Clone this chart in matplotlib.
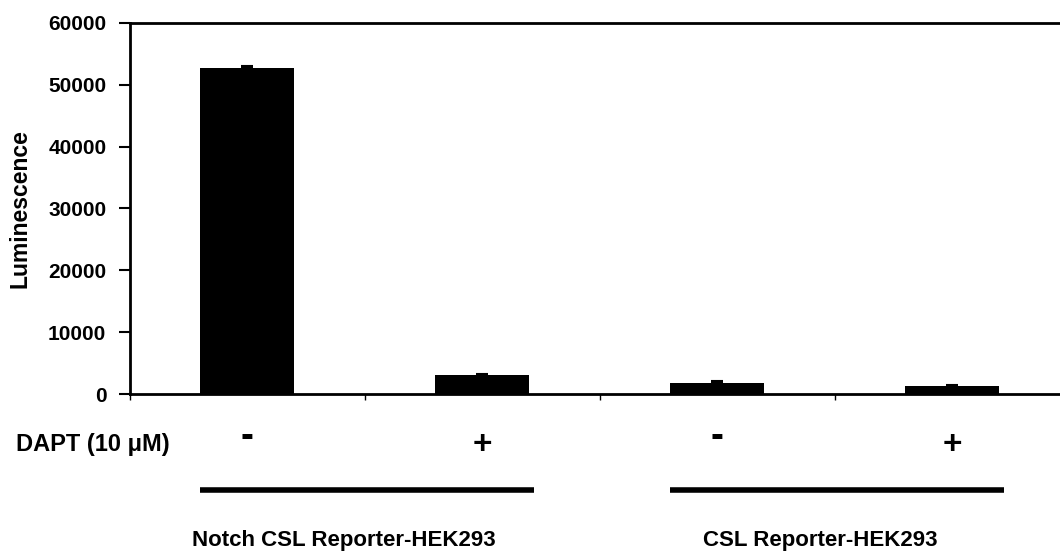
import matplotlib
matplotlib.use("Agg")
import matplotlib.pyplot as plt

plt.rcParams['font.family'] = ['Liberation Sans', 'DejaVu Sans']
plt.rcParams['font.weight'] = 'bold'

# data
conditions = ['-', '+', '-', '+']
luminescence = [52770, 3120, 1830, 1340]
errors = [200, 150, 230, 100]
groups = ['Notch CSL Reporter-HEK293', 'CSL Reporter-HEK293']
yticks = [0, 10000, 20000, 30000, 40000, 50000, 60000]

fig = plt.figure(figsize=(10.6, 5.54), dpi=100)
ax = fig.add_axes([0.1226, 0.2888, 0.8774, 0.6697])

x = list(range(len(luminescence)))
ax.bar(x, luminescence, width=0.4, color='black', zorder=2)
ax.errorbar(x, luminescence, yerr=[[0] * len(errors), errors], fmt='none',
            ecolor='black', elinewidth=1, capsize=4, capthick=1.5, zorder=3)

ax.set_xlim(-0.5, 3.46)
ax.set_ylim(0, 60000)
ax.set_yticks(yticks)
ax.set_yticklabels([str(v) for v in yticks], fontsize=15, fontweight='bold')
ax.set_ylabel('Luminescence', fontsize=16.5, fontweight='bold', labelpad=12)

# ticks between categories, no labels
ax.set_xticks([i - 0.5 for i in range(len(luminescence))])
ax.set_xticklabels([])
ax.tick_params(axis='x', direction='out', length=4, width=1)
ax.tick_params(axis='y', direction='out', length=8, width=1.5, pad=9)

for side in ['left', 'top', 'bottom']:
    ax.spines[side].set_linewidth(2)
ax.spines['right'].set_visible(False)

# treatment row
trans = ax.get_xaxis_transform()
ax.text(-0.33, -0.135, 'DAPT (10 \u03bcM)', transform=trans, fontsize=17,
        fontweight='bold', ha='right', va='center')
for i, c in enumerate(conditions):
    if c == '+':
        ax.text(i, -0.14, c, transform=trans, fontsize=24,
                fontweight='bold', ha='center', va='center')
    else:
        ax.text(i, -0.117, c, transform=trans, fontsize=28,
                fontweight='bold', ha='center', va='center')

# group lines and labels
label_x = [0.41, 2.44]
for g, name in enumerate(groups):
    left, right = 2 * g - 0.2, 2 * g + 1.22
    ax.plot([left, right], [-0.258, -0.258], transform=trans, color='black',
            lw=4, solid_capstyle='butt', clip_on=False)
    ax.text(label_x[g], -0.396, name, transform=trans, fontsize=16,
            fontweight='bold', ha='center', va='center')

fig.savefig('out.png', dpi=100)
